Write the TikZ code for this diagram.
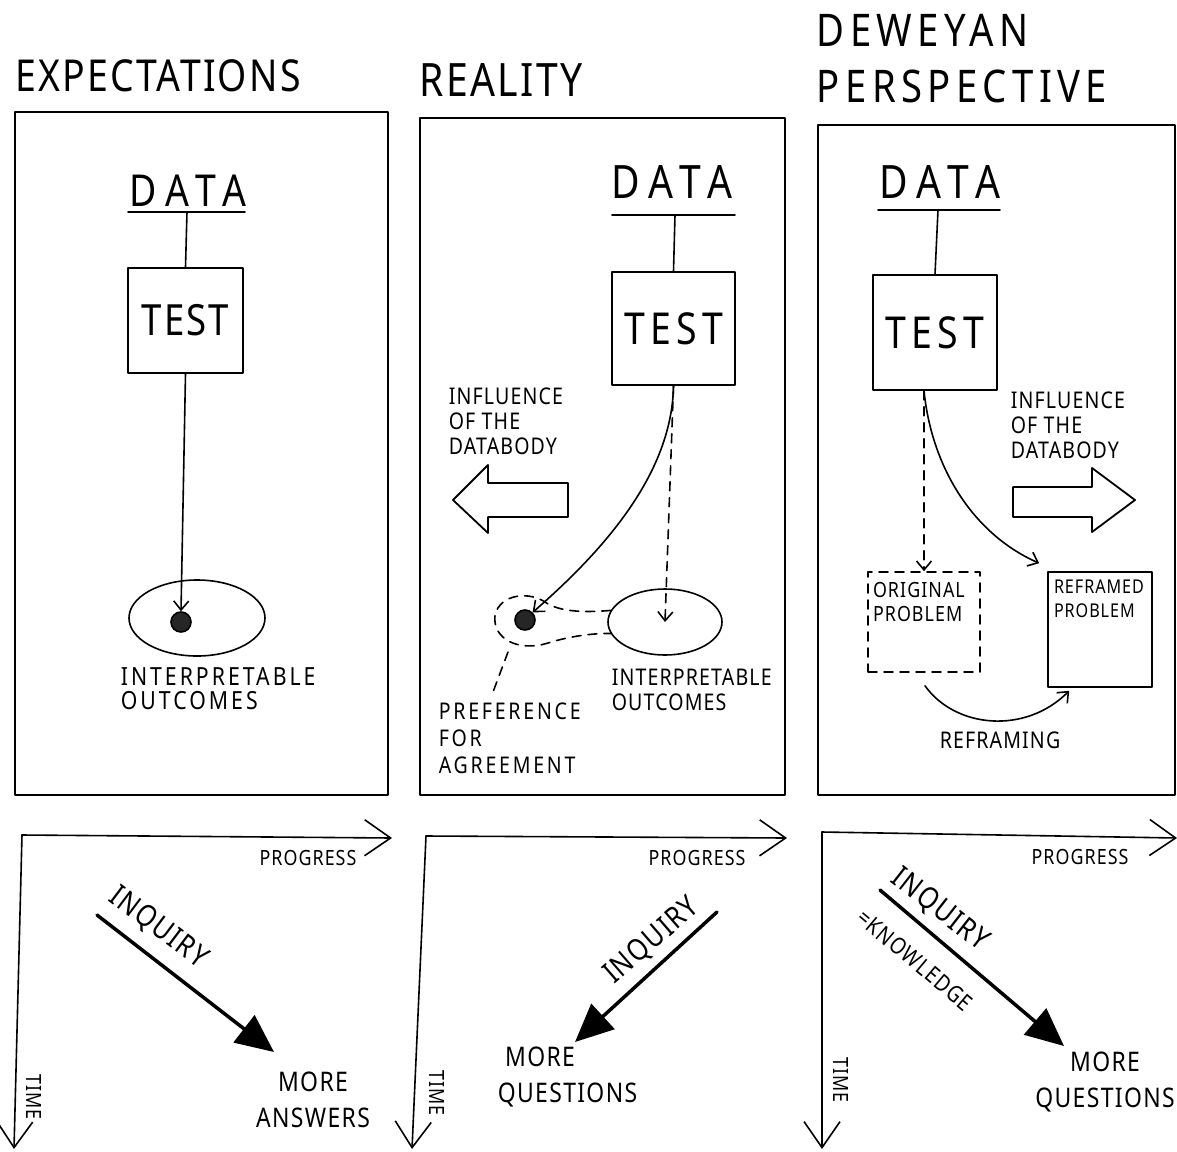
\documentclass[tikz,border=0pt]{standalone}
\usepackage{fontspec}
\newfontfamily\hand{Noto Sans}[FakeStretch=0.85,LetterSpace=5]
\newfontfamily\handw{Noto Sans}[FakeStretch=0.85,LetterSpace=12]
\newfontfamily\handww{Noto Sans}[FakeStretch=0.85,LetterSpace=20]
\usetikzlibrary{arrows.meta,shapes.geometric,calc}
\begin{document}
\begin{tikzpicture}[x=1pt,y=-1pt,line width=1.6pt,line cap=round,line join=round,
  >={Straight Barb[length=9pt,width=15pt]}]
\tikzset{
 frame/.style={draw,line width=1.8pt,inner sep=0},
 titlef/.style={font=\hand\fontsize{44}{56}\selectfont,inner sep=0},
 bigf/.style={font=\hand\fontsize{42}{48}\selectfont,inner sep=0},
 dataf/.style={font=\handww\fontsize{46}{50}\selectfont,inner sep=0},
 testf/.style={font=\handw\fontsize{44}{50}\selectfont,inner sep=0},
 smallf/.style={font=\hand\fontsize{23}{25}\selectfont,inner sep=0,align=left},
 testbox/.style={draw,inner sep=0},
 outcome/.style={draw,ellipse,inner sep=0},
 dot/.style={circle,fill=black!85,draw,inner sep=0,minimum size=20pt},
 dashedline/.style={dash pattern=on 9pt off 7pt},
 blockarrow/.style={draw,line width=1.8pt},
 axis/.style={-{Straight Barb[length=26pt,width=36pt]},line width=1.6pt},
 inquiry/.style={-{Triangle[length=38pt,width=34pt]},line width=3.5pt},
 axislabel/.style={font=\hand\fontsize{21}{24}\selectfont,inner sep=0},
 inqlabel/.style={font=\hand\fontsize{30}{34}\selectfont,inner sep=0},
 answer/.style={font=\hand\fontsize{27}{36}\selectfont,inner sep=0,align=center},
}
\useasboundingbox (0,0) rectangle (1177,1151);

% ---------- titles
\node[titlef] (title1) at (158,76) {EXPECTATIONS};
\node[titlef,font=\hand\fontsize{46}{56}\selectfont] (title2) at (501,80) {REALITY};
\node[titlef,font=\handw\fontsize{45}{56}\selectfont,align=left,anchor=north west] (title3) at (816,13) {DEWEYAN\\PERSPECTIVE};

% ---------- panel 1
\node[frame,minimum width=373pt,minimum height=683pt] (p1) at (201.5,453.5) {};
\node[dataf,font=\handww\fontsize{44}{50}\selectfont] (d1) at (188,191) {DATA};
\coordinate (d1u) at (187,212);
\draw (128,212) -- (245,212);
\node[testbox,bigf,font=\hand\fontsize{43}{48}\selectfont,minimum width=115pt,minimum height=105pt] (test1) at (185.5,320.5) {TEST};
\draw (d1u) -- (test1.north);
\node[outcome,minimum width=136pt,minimum height=76pt] (e1) at (197,618) {};
\node[dot] (dot1) at (181,622) {};
\draw[->] (test1.south) -- (dot1.north);
\node[smallf,font=\handw\fontsize{25}{24}\selectfont,anchor=north west] (lab1) at (120,667) {INTERPRETABLE\\OUTCOMES};

% ---------- panel 2
\node[frame,minimum width=365pt,minimum height=677pt] (p2) at (602.5,456.5) {};
\node[dataf] (d2) at (672,182) {DATA};
\coordinate (d2u) at (675,215);
\draw (612,215) -- (735,215);
\node[testbox,testf,minimum width=123pt,minimum height=113pt] (test2) at (673.5,328.5) {TEST};
\draw (d2u) -- (test2.north);
\node[outcome,minimum width=114pt,minimum height=66pt] (e2) at (665,622) {};
\node[dot] (dot2) at (525,620) {};
\draw[->] (test2.south) .. controls (672,470) and (610,545) .. (dot2.north east);
\draw[dashedline,->] (test2.south) -- (e2.center);
\draw[dashedline] (e2.168) .. controls (590,612) and (565,613) .. (548,604)
   .. controls (530,590) and (500,594) .. (495,615)
   .. controls (492,640) and (520,652) .. (548,643)
   .. controls (570,636) and (595,633) .. (e2.192);
\node[smallf,anchor=north west,font=\handw\fontsize{23}{27}\selectfont] (pref) at (438,702) {PREFERENCE\\FOR\\AGREEMENT};
\coordinate (blobb) at (508,652);
\draw[dashedline] (blobb) -- ($(pref.north west)+(55,-10)$);
\node[smallf,anchor=north west] (lab2) at (611,668) {INTERPRETABLE\\OUTCOMES};
\node[smallf,anchor=north west] (infl2) at (448,387) {INFLUENCE\\OF THE\\DATABODY};
\draw[blockarrow] (453,500) -- (488,465) -- (488,483) -- (568,483) -- (568,517) -- (488,517) -- (488,533) -- cycle;

% ---------- panel 3
\node[frame,minimum width=357pt,minimum height=670pt] (p3) at (996.5,460) {};
\node[dataf] (d3) at (940,182) {DATA};
\coordinate (d3u) at (938,210);
\draw (878,210) -- (1000,210);
\node[testbox,testf,minimum width=124pt,minimum height=115pt] (test3) at (935,332.5) {TEST};
\draw (d3u) -- (test3.north);
\node[draw,dashedline,inner sep=0,minimum width=112pt,minimum height=100pt] (orig) at (924,622) {};
\node[smallf,anchor=north west,font=\hand\fontsize{21}{24}\selectfont] (origt) at ($(orig.north west)+(5,10)$) {ORIGINAL\\PROBLEM};
\node[draw,inner sep=0,minimum width=104pt,minimum height=115pt] (refr) at (1100,629.5) {};
\node[smallf,anchor=north west,font=\hand\fontsize{19}{24}\selectfont] (refrt) at ($(refr.north west)+(6,8)$) {REFRAMED\\PROBLEM};
\draw[dashedline,->] (test3.south -| orig.north) -- (orig.north);
\draw[->] (test3.south -| orig.north) .. controls (932,470) and (975,535) .. ($(refr.north west)+(-8,-8)$);
\draw[->] ($(orig.south)+(1,13)$) .. controls (955,728) and (1025,735) .. ($(refr.south west)+(22,3)$);
\node[smallf] (refrl) at (1000,740) {REFRAMING};
\node[smallf,anchor=north west] (infl3) at (1010,391) {INFLUENCE\\OF THE\\DATABODY};
\draw[blockarrow] (1135,500) -- (1092,468) -- (1092,487) -- (1013,487) -- (1013,517) -- (1092,517) -- (1092,532) -- cycle;

% ---------- bottom panel 1
\coordinate (o1) at (22,835);
\coordinate (px1) at (392,838);
\coordinate (ty1) at (14,1149);
\draw[axis] (o1) -- (px1);
\draw[axis] (o1) -- (ty1);
\node[axislabel] (prog1) at (308,858) {PROGRESS};
\node[axislabel,rotate=-90] (time1) at (34,1097) {TIME};
\coordinate (iq1s) at (97,915);
\coordinate (iq1e) at (274,1052);
\draw[inquiry] (iq1s) -- (iq1e);
\node[inqlabel,rotate=-37] (iql1) at (158,928) {INQUIRY};
\node[answer] (ans1) at (313,1100) {MORE\\ANSWERS};

% ---------- bottom panel 2
\coordinate (o2) at (426,836);
\coordinate (px2) at (787,838);
\coordinate (ty2) at (412,1149);
\draw[axis] (o2) -- (px2);
\draw[axis] (o2) -- (ty2);
\node[axislabel] (prog2) at (697,858) {PROGRESS};
\node[axislabel,rotate=-90] (time2) at (437,1093) {TIME};
\coordinate (iq2s) at (717,912);
\coordinate (iq2e) at (575,1042);
\draw[inquiry] (iq2s) -- (iq2e);
\node[inqlabel,rotate=41] (iql2) at (652,941) {INQUIRY};
\node[answer,align=left,anchor=north west] (ans2) at (497,1046) {\ MORE\\QUESTIONS};

% ---------- bottom panel 3
\coordinate (o3) at (822,832);
\coordinate (px3) at (1177,838);
\coordinate (ty3) at (822,1149);
\draw[axis] (o3) -- (px3);
\draw[axis] (o3) -- (ty3);
\node[axislabel] (prog3) at (1080,857) {PROGRESS};
\node[axislabel,rotate=-90] (time3) at (841,1080) {TIME};
\coordinate (iq3s) at (880,890);
\coordinate (iq3e) at (1064,1046);
\draw[inquiry] (iq3s) -- (iq3e);
\node[inqlabel,rotate=-38] (iql3) at (940,910) {INQUIRY};
\node[axislabel,font=\hand\fontsize{23}{24}\selectfont,rotate=-40] (know3) at (915,960) {=KNOWLEDGE};
\node[answer] (ans3) at (1105,1082) {MORE\\QUESTIONS};
\end{tikzpicture}
\end{document}
